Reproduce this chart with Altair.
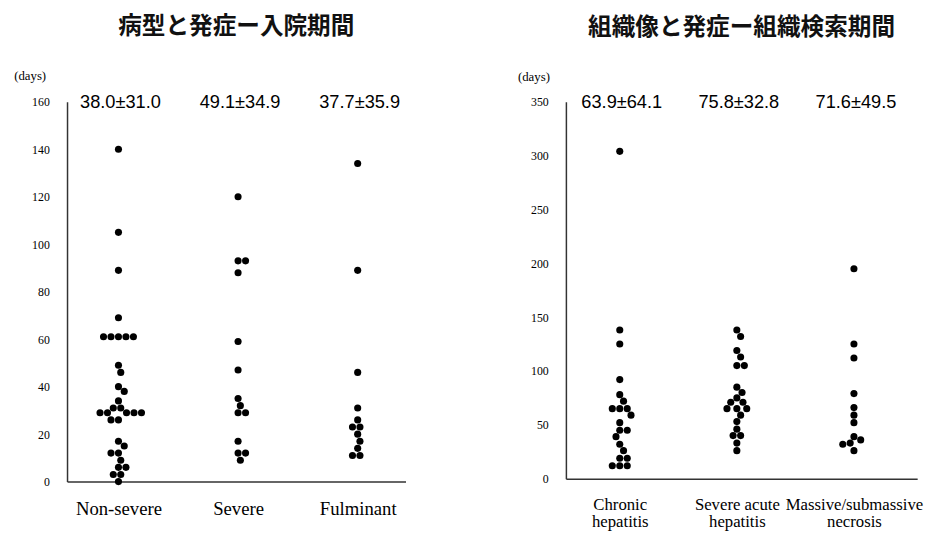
import math
import altair as alt
import pandas as pd

# ---------------- data ----------------
left_title = "病型と発症ー入院期間"
left_labels = [["Non-severe"], ["Severe"], ["Fulminant"]]
left_stats = ["38.0±31.0", "49.1±34.9", "37.7±35.9"]
non_severe = [140, 105, 89, 69, 61, 61, 61, 61, 61, 49, 46, 40, 38, 34, 31, 31,
              29, 29, 29, 29, 29, 26, 26, 17, 15, 12, 12, 9, 6, 6, 3, 3, 0]
severe = [120, 93, 93, 88, 59, 47, 35, 32, 29, 29, 17, 12, 12, 9]
fulminant = [134, 89, 46, 31, 26, 23, 23, 20, 17, 14, 11, 11]
left_ticks = [0, 20, 40, 60, 80, 100, 120, 140, 160]

right_title = "組織像と発症ー組織検索期間"
right_labels = [["Chronic", "hepatitis"], ["Severe acute", "hepatitis"],
                ["Massive/submassive", "necrosis"]]
right_stats = ["63.9±64.1", "75.8±32.8", "71.6±49.5"]
chronic = [304, 138, 125, 92, 78, 72, 65, 65, 65, 59, 52, 45, 45, 39, 32, 26,
           19, 19, 12, 12, 12]
severe_acute = [138, 132, 119, 113, 105, 105, 85, 80, 75, 71, 71, 65, 65, 65,
                59, 53, 46, 40, 40, 33, 26]
massive = [195, 125, 112, 79, 66, 59, 52, 39, 36, 33, 32, 26]
right_ticks = [0, 50, 100, 150, 200, 250, 300, 350]

SERIF = "Liberation Serif"
SANS = "Liberation Sans"
CJK = "Noto Sans CJK JP"
DOT_D = 7.6  # collision diameter in px


def swarm(vals, ypx, xpx, d=DOT_D):
    order = sorted(range(len(vals)), key=lambda i: -vals[i])
    placed = []
    offs = [0.0] * len(vals)
    for i in order:
        y = vals[i] * ypx
        near = [(px, py) for px, py in placed if abs(py - y) < d]
        cands = [0.0]
        for px, py in near:
            h = math.sqrt(d * d - (py - y) ** 2)
            cands += [px + h, px - h]
        valid = [c for c in cands
                 if all((c - px) ** 2 + (y - py) ** 2 >= d * d - 1e-6 for px, py in near)]
        best = min(valid, key=lambda c: (round(abs(c), 6), -c))
        placed.append((best, y))
        offs[i] = best / xpx
    return offs


def panel(groups, labels, stats, title, ydom, yticks, xdom, w, h,
          xlab_size, xlab_pad, title_x, title_y):
    ypx = h / (ydom[1] - ydom[0])
    xpx = w / (xdom[1] - xdom[0])
    rows = []
    for gi, vals in enumerate(groups):
        offs = swarm(vals, ypx, xpx)
        for v, o in zip(vals, offs):
            rows.append({"x": gi + 1 + o, "value": v})
    df = pd.DataFrame(rows)
    sdf = pd.DataFrame({"x": [1, 2, 3], "value": [ydom[1]] * 3, "label": stats})
    lab_js = "[" + ",".join("'" + "|".join(l) + "'" for l in labels) + "]"
    xaxis = alt.Axis(values=[1, 2, 3], title=None, grid=False, ticks=False,
                     labelExpr=f"split({lab_js}[datum.value-1], '|')",
                     labelFont=SERIF, labelFontSize=xlab_size, labelColor="black",
                     labelPadding=xlab_pad, labelLineHeight=18, labelAngle=0)
    yaxis = alt.Axis(values=yticks, title="(days)", titleAngle=0, titleX=title_x,
                     titleY=title_y, titleAlign="center", titleBaseline="middle",
                     titleFont=SERIF, titleFontSize=13, titleFontWeight="normal",
                     titleColor="black", grid=False, ticks=False,
                     labelFont=SERIF, labelFontSize=12, labelColor="black",
                     labelPadding=18)
    pts = alt.Chart(df).mark_circle(size=52, color="black", opacity=1).encode(
        x=alt.X("x:Q", scale=alt.Scale(domain=xdom, nice=False, zero=False), axis=xaxis),
        y=alt.Y("value:Q", scale=alt.Scale(domain=ydom, nice=False), axis=yaxis),
    )
    txt = alt.Chart(sdf).mark_text(font=SANS, fontSize=18.5, baseline="middle",
                                   color="black", dx=2).encode(
        x="x:Q", y="value:Q", text="label:N")
    return alt.layer(pts, txt).properties(
        width=w, height=h,
        title=alt.TitleParams(title, font=CJK, fontSize=24, fontWeight="bold",
                              color="#111", anchor="middle", offset=31))


left = panel([non_severe, severe, fulminant], left_labels, left_stats, left_title,
             [0, 160], left_ticks, [0.57, 3.40], 344, 386, 19, 18, -38, -27)
right = panel([chronic, severe_acute, massive], right_labels, right_stats, right_title,
              [0, 350], right_ticks, [0.54, 3.54], 357, 383, 17, 18, -33, -26)

chart = alt.hconcat(left, right, spacing=113).configure_view(stroke=None).configure_axis(
    domainColor="#333", domainWidth=1.5).properties(
    padding={"top": 3, "left": 5, "right": 5, "bottom": 5})

chart.save("out.html", embed_options={"renderer": "svg", "actions": False})
